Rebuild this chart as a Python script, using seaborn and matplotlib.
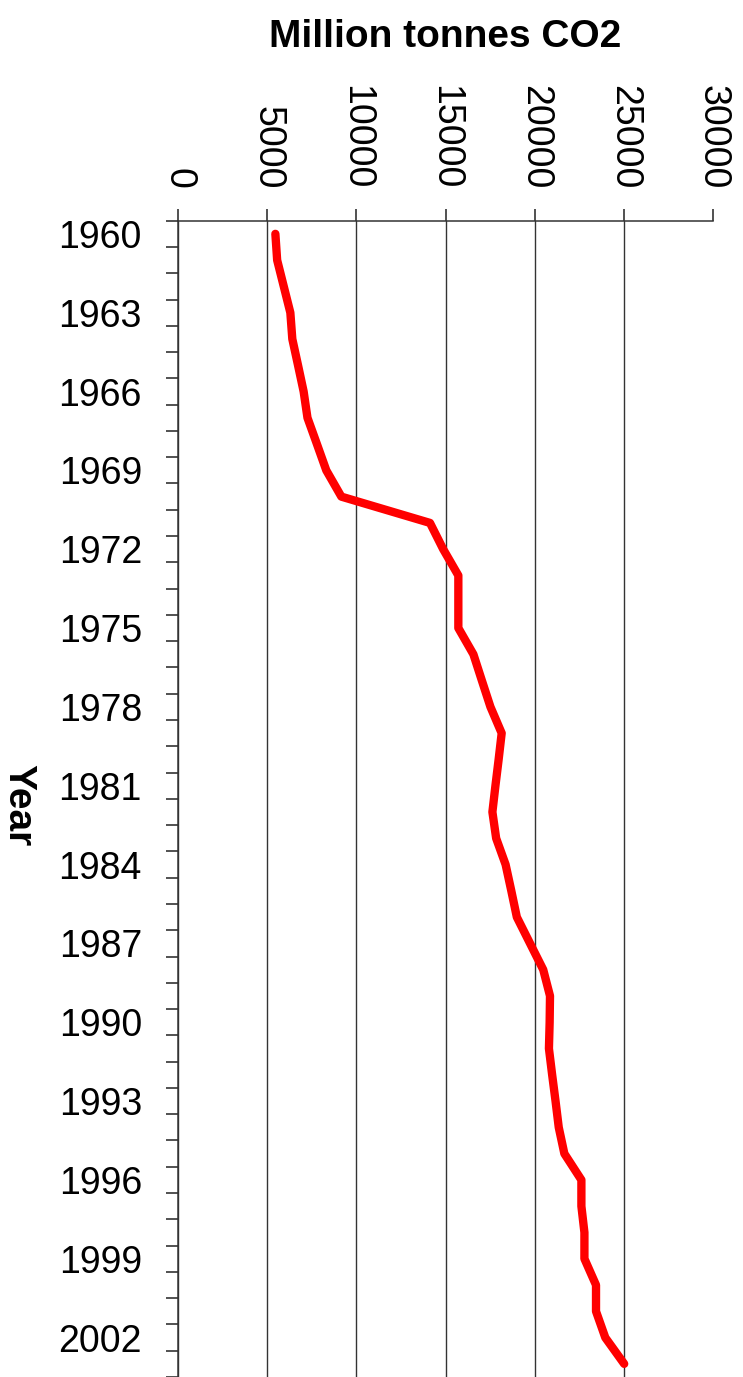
import numpy as np
import pandas as pd
import matplotlib
matplotlib.use('Agg')
import matplotlib.pyplot as plt
import seaborn as sns

# --- data ---
years = list(range(1960, 2004))
co2_mt = [5460, 5560, 5930, 6300, 6410, 6730, 7045, 7260, 7790, 8315,
          9160, 14130, 14870, 15720, 15720, 15720, 16565, 17040, 17520, 18150,
          17980, 17800, 17630, 17840, 18370, 18690, 19000, 19740, 20480, 20860,
          20840, 20800, 20980, 21170, 21350, 21665, 22620, 22620, 22790, 22790,
          23440, 23440, 23960, 25020]
x_ticks = [0, 5000, 10000, 15000, 20000, 25000, 30000]
year_labels = list(range(1960, 2003, 3))

df = pd.DataFrame({'Year': years, 'CO2': co2_mt})

sns.set_style('white')
plt.rcParams['font.family'] = ['Liberation Sans', 'DejaVu Sans']
plt.rcParams['text.color'] = 'black'
plt.rcParams['axes.labelcolor'] = 'black'
plt.rcParams['xtick.color'] = 'black'
plt.rcParams['ytick.color'] = 'black'

fig = plt.figure(figsize=(7.43, 13.77), dpi=100)
ax = fig.add_axes([178 / 743, 0.0, 535 / 743, 1 - 220.7 / 1377])

sns.lineplot(data=df, x='CO2', y='Year', orient='y', sort=False, ax=ax,
             color='#ff0000', linewidth=6.0, solid_capstyle='round')

ax.set_xlim(0, 30000)
ax.set_ylim(2003.3, 1959.5)

# x axis on top, rotated labels
ax.xaxis.tick_top()
ax.xaxis.set_label_position('top')
ax.set_xticks(x_ticks)
ax.set_xticklabels([str(v) for v in x_ticks], rotation=-90, fontsize=27)
ax.tick_params(axis='x', which='major', top=True, bottom=False,
               direction='out', length=8.6, width=1.1, color='#222222',
               labelcolor='black', pad=14)

# y axis: category-style ticks between years, labels every 3 years
ax.set_yticks(year_labels)
ax.set_yticklabels([str(y) for y in year_labels], fontsize=27)
ax.set_yticks(np.arange(1959.5, 2004, 1), minor=True)
ax.tick_params(axis='y', which='major', left=True, length=0, pad=26,
               labelcolor='black')
ax.tick_params(axis='y', which='minor', left=True, direction='out',
               length=8.6, width=1.1, color='#222222')

# vertical gridlines except at the right edge
ax.grid(True, axis='x', color='#333333', linewidth=1.0)
ax.grid(False, axis='y')
ax.xaxis.get_major_ticks()[-1].gridline.set_visible(False)

for side in ['right', 'bottom']:
    ax.spines[side].set_visible(False)
for side in ['left', 'top']:
    ax.spines[side].set_color('#333333')
    ax.spines[side].set_linewidth(1.1)

ax.set_xlabel('Million tonnes CO2', fontsize=28, fontweight='bold')
ax.xaxis.set_label_coords(0.5, (1377 - 47) / 1156.3)
ax.set_ylabel('Year', fontsize=28, fontweight='bold', rotation=-90,
              ha='center', va='center', rotation_mode='default')
ax.yaxis.set_label_coords((18 - 178) / 535, (1377 - 805) / 1156.3)

fig.savefig('out.png', dpi=100)
plt.close(fig)
